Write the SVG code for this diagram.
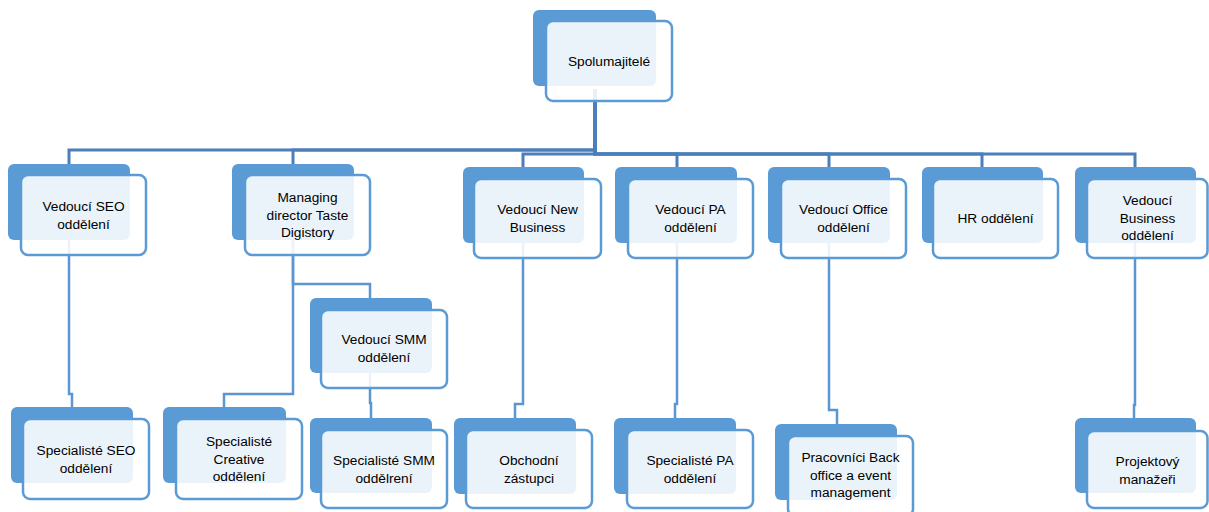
<svg xmlns="http://www.w3.org/2000/svg" width="1209" height="512" viewBox="0 0 1209 512">
<style>
.bk{fill:#5b9bd5}
.fr{fill:#ffffff;fill-opacity:0.88;stroke:#5b9bd5;stroke-width:2.5}
.t{font-family:"Liberation Sans",Arial,sans-serif;font-size:13.7px;fill:#000;text-anchor:middle}
.c1{fill:none;stroke:#4a7fb9;stroke-width:3}
.c2{fill:none;stroke:#5b96d0;stroke-width:2.5}
</style>
<rect width="1209" height="512" fill="#ffffff"/>
<g id="connectors">
<path class="c1" d="M595,89 V150 H69 V164"/>
<path class="c1" d="M595,89 V150 H293 V164"/>
<path class="c1" d="M595,89 V154 H523 V167"/>
<path class="c1" d="M595,89 V154 H677 V167"/>
<path class="c1" d="M595,89 V154 H829 V167"/>
<path class="c1" d="M595,89 V154 H982 V167"/>
<path class="c1" d="M595,89 V154 H1135 V167"/>
<path class="c2" d="M69,240 V394 H72 V407"/>
<path class="c2" d="M293,240 V394 H224 V407"/>
<path class="c2" d="M293,240 V284 H370 V298"/>
<path class="c2" d="M370,373 V403 H371 V418"/>
<path class="c2" d="M523,243 V404 H515 V418"/>
<path class="c2" d="M677,243 V404 H675 V418"/>
<path class="c2" d="M829,243 V410 H837 V424"/>
<path class="c2" d="M1135,243 V405 H1134 V418"/>
</g>
<g id="n0"><rect class="bk" x="533" y="10" width="123" height="76" rx="6"/><rect class="fr" x="546" y="21" width="126" height="80" rx="7"/><text class="t" x="609" y="66">Spolumajitelé</text></g>
<g id="n1"><rect class="bk" x="8" y="164" width="122" height="76" rx="6"/><rect class="fr" x="21" y="175" width="125" height="80" rx="7"/><text class="t" x="83.5" y="211">Vedoucí SEO</text><text class="t" x="83.5" y="228.5">oddělení</text></g>
<g id="n2"><rect class="bk" x="232" y="164" width="122" height="76" rx="6"/><rect class="fr" x="245" y="175" width="125" height="80" rx="7"/><text class="t" x="307.5" y="202">Managing</text><text class="t" x="307.5" y="219.5">director Taste</text><text class="t" x="307.5" y="237">Digistory</text></g>
<g id="n3"><rect class="bk" x="463" y="167" width="121" height="76" rx="6"/><rect class="fr" x="474" y="179" width="127" height="79" rx="7"/><text class="t" x="537.5" y="214">Vedoucí New</text><text class="t" x="537.5" y="231.5">Business</text></g>
<g id="n4"><rect class="bk" x="615" y="167" width="122" height="76" rx="6"/><rect class="fr" x="628" y="179" width="125" height="79" rx="7"/><text class="t" x="690.5" y="214">Vedoucí PA</text><text class="t" x="690.5" y="231.5">oddělení</text></g>
<g id="n5"><rect class="bk" x="768" y="167" width="122" height="76" rx="6"/><rect class="fr" x="781" y="179" width="125" height="79" rx="7"/><text class="t" x="843.5" y="214">Vedoucí Office</text><text class="t" x="843.5" y="231.5">oddělení</text></g>
<g id="n6"><rect class="bk" x="922" y="167" width="121" height="76" rx="6"/><rect class="fr" x="933" y="179" width="125" height="79" rx="7"/><text class="t" x="995.5" y="223">HR oddělení</text></g>
<g id="n7"><rect class="bk" x="1075" y="167" width="121" height="76" rx="6"/><rect class="fr" x="1087" y="179" width="120.5" height="79" rx="7"/><text class="t" x="1147.5" y="205">Vedoucí</text><text class="t" x="1147.5" y="222.5">Business</text><text class="t" x="1147.5" y="240">oddělení</text></g>
<g id="n8"><rect class="bk" x="310" y="298" width="122" height="75" rx="6"/><rect class="fr" x="321" y="310" width="126" height="78" rx="7"/><text class="t" x="384" y="344">Vedoucí SMM</text><text class="t" x="384" y="361.5">oddělení</text></g>
<g id="n9"><rect class="bk" x="11" y="407" width="122" height="76" rx="6"/><rect class="fr" x="23" y="419" width="126" height="80" rx="7"/><text class="t" x="86" y="455">Specialisté SEO</text><text class="t" x="86" y="472.5">oddělení</text></g>
<g id="n10"><rect class="bk" x="163" y="407" width="123" height="76" rx="6"/><rect class="fr" x="176" y="419" width="126" height="80" rx="7"/><text class="t" x="239" y="446">Specialisté</text><text class="t" x="239" y="463.5">Creative</text><text class="t" x="239" y="481">oddělení</text></g>
<g id="n11"><rect class="bk" x="310" y="418" width="122" height="75" rx="6"/><rect class="fr" x="321" y="430" width="126" height="78" rx="7"/><text class="t" x="384" y="465">Specialisté SMM</text><text class="t" x="384" y="482.5">oddělrení</text></g>
<g id="n12"><rect class="bk" x="454" y="418" width="122" height="76" rx="6"/><rect class="fr" x="466" y="430" width="126" height="78" rx="7"/><text class="t" x="529" y="465">Obchodní</text><text class="t" x="529" y="482.5">zástupci</text></g>
<g id="n13"><rect class="bk" x="614" y="418" width="122" height="76" rx="6"/><rect class="fr" x="627" y="430" width="126" height="78" rx="7"/><text class="t" x="690" y="465">Specialisté PA</text><text class="t" x="690" y="482.5">oddělení</text></g>
<g id="n14"><rect class="bk" x="775" y="424" width="122" height="76" rx="6"/><rect class="fr" x="788" y="436" width="125" height="80" rx="7"/><text class="t" x="850.5" y="462">Pracovníci Back</text><text class="t" x="850.5" y="479.5">office a event</text><text class="t" x="850.5" y="497">management</text></g>
<g id="n15"><rect class="bk" x="1075" y="418" width="121" height="75" rx="6"/><rect class="fr" x="1087" y="431" width="120.5" height="77" rx="7"/><text class="t" x="1147.5" y="466">Projektový</text><text class="t" x="1147.5" y="483.5">manažeři</text></g>
</svg>
